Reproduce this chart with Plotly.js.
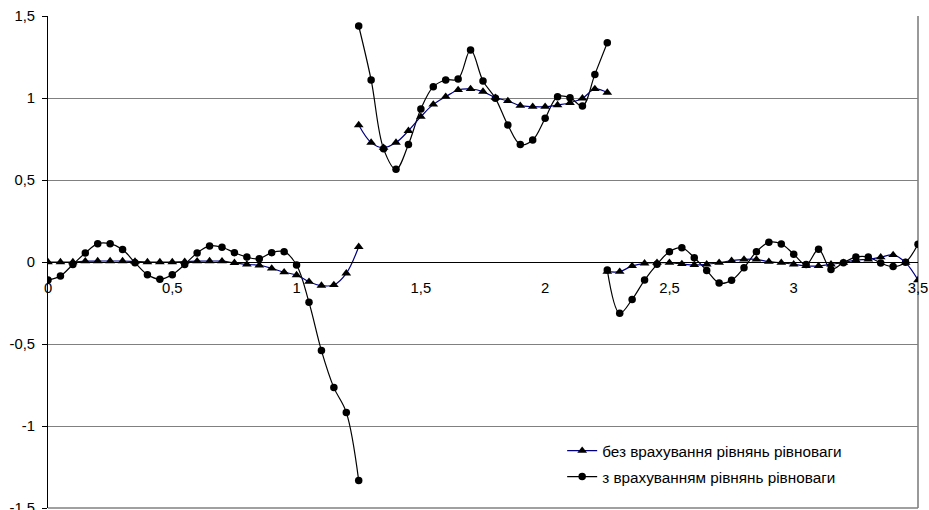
<!DOCTYPE html>
<html>
<head>
<meta charset="utf-8">
<script src="https://cdn.plot.ly/plotly-3.0.1.min.js"></script>
<style>html,body{margin:0;padding:0;background:#fff;}#chart{width:929px;height:510px;}</style>
</head>
<body>
<div id="chart"></div>
<script>
// x positions of each segment
const xSeg1 = [0,0.05,0.1,0.15,0.2,0.25,0.3,0.35,0.4,0.45,0.5,0.55,0.6,0.65,0.7,0.75,0.8,0.85,0.9,0.95,1.0,1.05,1.1,1.15,1.2,1.25];
const xSeg2 = [1.25,1.3,1.35,1.4,1.45,1.5,1.55,1.6,1.65,1.7,1.75,1.8,1.85,1.9,1.95,2.0,2.05,2.1,2.15,2.2,2.25];
const xSeg3 = [2.25,2.3,2.35,2.4,2.45,2.5,2.55,2.6,2.65,2.7,2.75,2.8,2.85,2.9,2.95,3.0,3.05,3.1,3.15,3.2,3.25,3.3,3.35,3.4,3.45,3.5];

// "без врахування рівнянь рівноваги" (triangles)
const triSeg1 = [0.0,0.0,0.0,0.005,0.006,0.006,0.006,0.003,0.0,0.0,0.0,0.002,0.005,0.006,0.005,-0.005,-0.015,-0.02,-0.039,-0.062,-0.08,-0.12,-0.144,-0.14,-0.069,0.093];
const triSeg2 = [0.835,0.728,0.697,0.728,0.8,0.886,0.961,1.008,1.049,1.055,1.039,1.002,0.982,0.953,0.947,0.947,0.957,0.971,0.998,1.055,1.033];
const triSeg3 = [-0.059,-0.059,-0.024,-0.008,-0.004,-0.004,-0.012,-0.018,-0.014,-0.004,0.008,0.016,0.016,0.002,-0.004,-0.014,-0.024,-0.024,-0.014,-0.004,0.012,0.016,0.029,0.043,-0.004,-0.11];

// "з врахуванням рівнянь рівноваги" (circles)
const cirSeg1 = [-0.11,-0.085,-0.015,0.055,0.112,0.112,0.076,-0.004,-0.077,-0.105,-0.077,-0.015,0.055,0.098,0.09,0.057,0.03,0.02,0.057,0.063,-0.018,-0.246,-0.54,-0.766,-0.917,-1.333];
const cirSeg2 = [1.439,1.11,0.69,0.565,0.717,0.933,1.069,1.11,1.116,1.293,1.104,0.998,0.835,0.717,0.744,0.876,1.008,1.002,0.951,1.144,1.337];
const cirSeg3 = [-0.049,-0.313,-0.228,-0.11,-0.014,0.063,0.087,0.026,-0.052,-0.128,-0.112,-0.035,0.063,0.12,0.11,0.048,-0.016,0.077,-0.045,-0.004,0.03,0.03,-0.006,-0.028,-0.001,0.108];

const names = ["без врахування рівнянь рівноваги", "з врахуванням рівнянь рівноваги"];
const xTicks = [0,0.5,1,1.5,2,2.5,3,3.5];
const yTicks = [-1.5,-1,-0.5,0,0.5,1,1.5];

function join(a,b,c){ return a.concat([null], b, [null], c); }
const xAll = join(xSeg1, xSeg2, xSeg3);

const traces = [
  {
    x: xAll, y: join(cirSeg1, cirSeg2, cirSeg3), name: names[1], type: 'scatter', mode: 'lines+markers',
    connectgaps: false, legendgroup: 'b', legendrank: 2,
    line: {color: '#000000', width: 1.2, shape: 'spline', smoothing: 1},
    marker: {symbol: 'circle', size: 7.5, color: '#000000'}
  },
  {
    x: xAll, y: join(triSeg1, triSeg2, triSeg3), name: names[0], type: 'scatter', mode: 'lines+markers',
    connectgaps: false, legendgroup: 'a', legendrank: 1,
    line: {color: '#000080', width: 1.2, shape: 'spline', smoothing: 1},
    marker: {symbol: 'triangle-up', size: 8.5, color: '#000000'}
  }
];

const layout = {
  width: 929, height: 510,
  margin: {l: 48, r: 11, t: 16, b: 2},
  paper_bgcolor: '#ffffff', plot_bgcolor: '#ffffff',
  font: {family: 'Liberation Sans, Arial, sans-serif', size: 14.8, color: '#000000'},
  separators: ', ',
  showlegend: true,
  legend: {
    x: 0.591, y: 0.15, xanchor: 'left', yanchor: 'top',
    bgcolor: 'rgba(255,255,255,0)', borderwidth: 0,
    traceorder: 'grouped', tracegroupgap: 3,
    font: {family: 'Liberation Sans, Arial, sans-serif', size: 15.3, color: '#000000'}
  },
  xaxis: {
    range: [0, 3.5], tickvals: xTicks, ticktext: xTicks.map(v => String(v).replace('.', ',')),
    showgrid: false, zeroline: false,
    showline: true, linecolor: '#000000', linewidth: 1,
    anchor: 'free', position: 0.5,
    ticks: '', ticklabelstandoff: 12,
    ticklabeloverflow: 'allow',
    tickfont: {size: 14.8}
  },
  yaxis: {
    range: [-1.5, 1.5], tickvals: yTicks, ticktext: yTicks.map(v => String(v).replace('.', ',')),
    showgrid: true, gridcolor: '#808080', gridwidth: 1,
    zeroline: false,
    showline: true, linecolor: '#000000', linewidth: 1,
    ticks: 'outside', ticklen: 5, tickcolor: '#000000',
    ticklabelstandoff: 4,
    ticklabeloverflow: 'allow',
    tickfont: {size: 14.8}
  },
  shapes: [
    {type: 'line', xref: 'paper', yref: 'paper', x0: 1, x1: 1, y0: 0, y1: 1,
     line: {color: '#999999', width: 2}, layer: 'below'},
    {type: 'line', xref: 'paper', yref: 'paper', x0: 0, x1: 1, y0: 0, y1: 0,
     line: {color: '#808080', width: 1.5}, layer: 'below'}
  ]
};

Plotly.newPlot('chart', traces, layout, {displayModeBar: false, staticPlot: true});
</script>
</body>
</html>
